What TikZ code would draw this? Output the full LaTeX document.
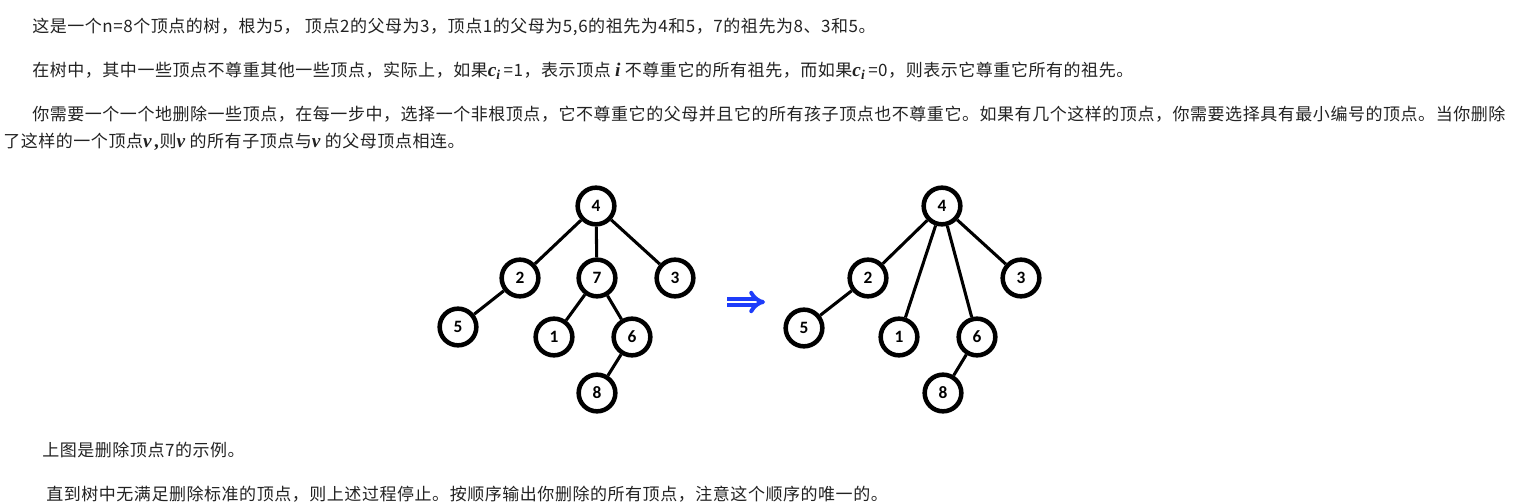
\documentclass[tikz,border=0pt]{standalone}
\usepackage{fontspec}
\setmainfont{Noto Sans CJK SC}[LetterSpace=3.2]
\newfontfamily\numfont{Carlito}
\newfontfamily\varfont{Liberation Serif}
\usetikzlibrary{arrows.meta}
\definecolor{arrowblue}{RGB}{30,60,250}
\definecolor{textgray}{RGB}{34,34,34}
\newcommand{\varit}[1]{{\varfont\bfseries\itshape\fontsize{14.5}{15}\selectfont #1}}
\newcommand{\cidx}{\varit{c\textsubscript{i}}}

\begin{document}
\begin{tikzpicture}[x=0.75pt, y=-0.75pt, font=\fontsize{12.75}{15}\selectfont]
    % Set up styles for the trees and the text
    \tikzstyle{vtx} = [circle, draw, line width=3.4pt, minimum size=27.5pt, inner sep=0pt,
        font=\numfont\bfseries\fontsize{13}{13}\selectfont]
    \tikzstyle{edge} = [line width=2.3pt]
    \tikzstyle{para} = [anchor=base west, inner sep=0pt, text=textgray]

    \useasboundingbox (0,0) rectangle (1513,503);

    % Text above the picture
    \node[para] (l1) at (32,32.5) {这是一个n=8个顶点的树，根为5， 顶点2的父母为3，顶点1的父母为5,6的祖先为4和5，7的祖先为8、3和5。};
    \node[para] (l2) at (32,77) {在树中，其中一些顶点不尊重其他一些顶点，实际上，如果\cidx\,=1，表示顶点 \varit{i} 不尊重它的所有祖先，而如果\cidx\,=0，则表示它尊重它所有的祖先。};
    \node[para] (l3) at (32,120.5) {你需要一个一个地删除一些顶点，在每一步中，选择一个非根顶点，它不尊重它的父母并且它的所有孩子顶点也不尊重它。如果有几个这样的顶点，你需要选择具有最小编号的顶点。当你删除};
    \node[para] (l4) at (3,147) {了这样的一个顶点\varit{v\,,}则\varit{v} 的所有子顶点与\varit{v} 的父母顶点相连。};

    % The tree before
    \node[vtx] (a4) at (596,206) {4};
    \node[vtx] (a2) at (520,278) {2};
    \node[vtx] (a7) at (597,278) {7};
    \node[vtx] (a3) at (675,278) {3};
    \node[vtx] (a5) at (458,327) {5};
    \node[vtx] (a1) at (554,337) {1};
    \node[vtx] (a6) at (632,337) {6};
    \node[vtx] (a8) at (597,393) {8};
    \draw[edge] (a4) -- (a2);
    \draw[edge] (a4) -- (a7);
    \draw[edge] (a4) -- (a3);
    \draw[edge] (a2) -- (a5);
    \draw[edge] (a7) -- (a1);
    \draw[edge] (a7) -- (a6);
    \draw[edge] (a6) -- (a8);

    % The arrow between the trees
    \coordinate (arrfrom) at (727,302);
    \coordinate (arrto) at (765,302);
    \draw[arrowblue, line width=3pt, double distance=2.2pt, -{Implies}] (arrfrom) -- (arrto);

    % The tree after deleting 7
    \node[vtx] (b4) at (942,206) {4};
    \node[vtx] (b2) at (868,278) {2};
    \node[vtx] (b3) at (1021,278) {3};
    \node[vtx] (b5) at (804,328) {5};
    \node[vtx] (b1) at (899,337) {1};
    \node[vtx] (b6) at (977,337) {6};
    \node[vtx] (b8) at (943,393) {8};
    \draw[edge] (b4) -- (b2);
    \draw[edge] (b4) -- (b1);
    \draw[edge] (b4) -- (b6);
    \draw[edge] (b4) -- (b3);
    \draw[edge] (b2) -- (b5);
    \draw[edge] (b6) -- (b8);

    % Text below the picture
    \node[para] (l5) at (42,456.5) {上图是删除顶点7的示例。};
    \node[para] (l6) at (46,500.5) {直到树中无满足删除标准的顶点，则上述过程停止。按顺序输出你删除的所有顶点，注意这个顺序的唯一的。};

\end{tikzpicture}
\end{document}
